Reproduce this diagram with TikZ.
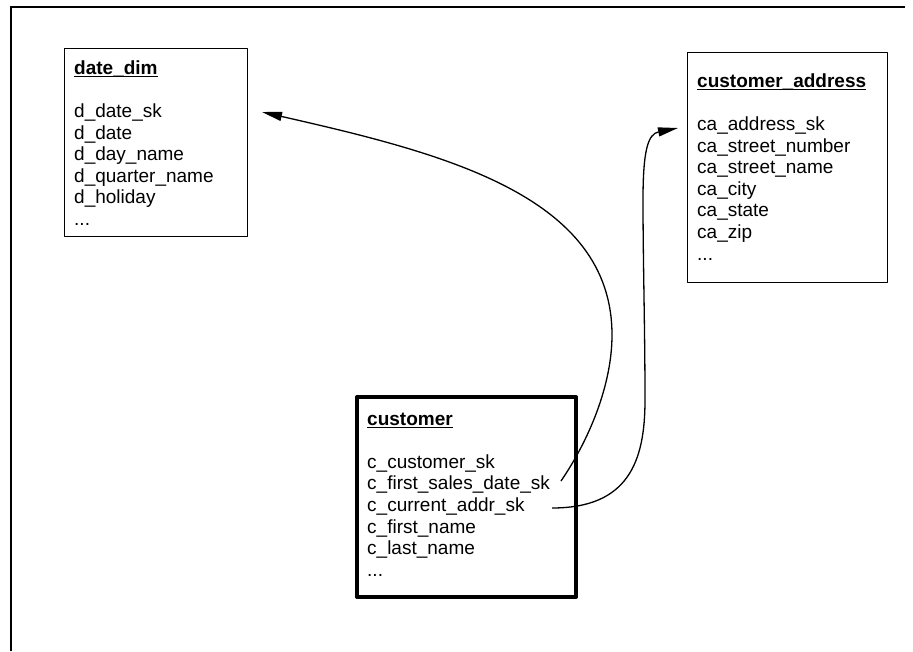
\documentclass[tikz,border=0pt]{standalone}
\usepackage{fontspec}
\setmainfont{Liberation Sans}
\usetikzlibrary{arrows.meta,calc}

% bold table name with a rule drawn just under the baseline
\newcommand\tabletitle[1]{\setbox0=\hbox{\bfseries #1}\rlap{\rule[-3pt]{\wd0}{1.2pt}}\box0}

\begin{document}
\begin{tikzpicture}[
  x=1pt, y=-1pt,
  tablebox/.style={draw, line width=1.3pt, line join=round, inner sep=0pt, anchor=north west},
  facttable/.style={tablebox, line width=4pt},
  fields/.style={font=\fontsize{19}{21.6}\selectfont, align=left, inner sep=0pt, anchor=north west},
  fklink/.style={line width=1.3pt, -{Triangle[length=20pt,width=9pt]}}
]
\useasboundingbox (0,0) rectangle (913,651);

% outer frame
\draw[line width=1.3pt] (11,651) -- (11,7) -- (905,7);

% tables
\node[tablebox, minimum width=183pt, minimum height=188pt] (datedim) at (64,48) {};
\node[fields] (datedimtxt) at (74,60.4) {\tabletitle{date\_dim}\\ \mbox{}\\
  d\_date\_sk\\ d\_date\\ d\_day\_name\\ d\_quarter\_name\\ d\_holiday\\ ...};

\node[tablebox, minimum width=200pt, minimum height=230pt] (addr) at (687,52) {};
\node[fields] (addrtxt) at (697,73.4) {\tabletitle{customer\_address}\\ \mbox{}\\
  ca\_address\_sk\\ ca\_street\_number\\ ca\_street\_name\\ ca\_city\\ ca\_state\\ ca\_zip\\ ...};

\node[facttable, minimum width=219pt, minimum height=200pt] (cust) at (355,395) {};
\node[fields] (custtxt) at (367,412.4) {\tabletitle{customer}\\ \mbox{}\\
  c\_customer\_sk\\ c\_first\_sales\_date\_sk\\ c\_current\_addr\_sk\\ c\_first\_name\\ c\_last\_name\\ ...};

% key columns joined by the links
\coordinate (firstsales) at (561,481);
\coordinate (curaddr) at (552,508);
\coordinate (datesk) at (262,112);
\coordinate (addrsk) at (678,128);

% foreign key links
\draw[fklink] (firstsales) .. controls (589,440) and (612,385) .. (612,335)
  .. controls (612,195) and (442,153) .. (datesk);
\draw[fklink] (curaddr) .. controls (628,508) and (645,462) .. (645,400)
  .. controls (645,330) and (643,260) .. (643,200)
  .. controls (643,150) and (648,134) .. (addrsk);
\end{tikzpicture}
\end{document}
